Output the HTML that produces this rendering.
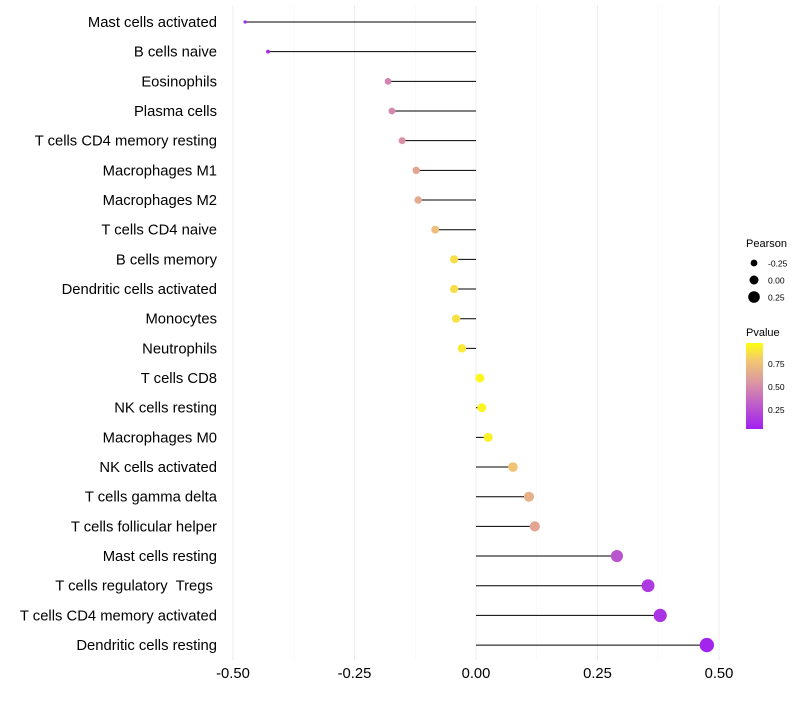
<!DOCTYPE html>
<html><head><meta charset="utf-8"><style>
body{margin:0;background:#fff;font-family:"Liberation Sans",sans-serif}
text{white-space:pre}
</style></head><body>
<svg id="chart" width="800" height="700" xmlns="http://www.w3.org/2000/svg" font-family="Liberation Sans, sans-serif">
<defs><linearGradient id="pg" x1="0" y1="1" x2="0" y2="0">
<stop offset="0" stop-color="#A020F0"/><stop offset="0.3" stop-color="#C060C8"/><stop offset="0.55" stop-color="#DC98A0"/><stop offset="0.8" stop-color="#F2C870"/><stop offset="1" stop-color="#FFFF10"/></linearGradient></defs>
<g id="grid"></g><g id="marks"></g><g id="ylabels"></g><g id="xlabels"></g>
<g>
<text x="746" y="247" font-size="11">Pearson</text>
<circle cx="754" cy="263" r="3.4"/><text x="768" y="266.5" font-size="8.5">-0.25</text>
<circle cx="754" cy="280" r="4.5"/><text x="768" y="283.5" font-size="8.5">0.00</text>
<circle cx="754" cy="297" r="5.8"/><text x="768" y="300.5" font-size="8.5">0.25</text>
<text x="746" y="336" font-size="11">Pvalue</text>
<rect x="746" y="343" width="17" height="86" fill="url(#pg)"/>
<text x="768" y="367" font-size="8.5">0.75</text>
<text x="768" y="390" font-size="8.5">0.50</text>
<text x="768" y="413" font-size="8.5">0.25</text>
</g>
</svg>
<script>
const cells=["Mast cells activated","B cells naive","Eosinophils","Plasma cells","T cells CD4 memory resting","Macrophages M1","Macrophages M2","T cells CD4 naive","B cells memory","Dendritic cells activated","Monocytes","Neutrophils","T cells CD8","NK cells resting","Macrophages M0","NK cells activated","T cells gamma delta","T cells follicular helper","Mast cells resting","T cells regulatory  Tregs ","T cells CD4 memory activated","Dendritic cells resting"];
const pearson=[-0.475,-0.428,-0.181,-0.173,-0.152,-0.123,-0.119,-0.084,-0.045,-0.045,-0.041,-0.029,0.008,0.012,0.025,0.076,0.109,0.121,0.29,0.354,0.379,0.475];
const pvalue=[0.03,0.05,0.45,0.48,0.52,0.62,0.64,0.75,0.88,0.88,0.89,0.92,0.97,0.96,0.95,0.78,0.68,0.62,0.25,0.12,0.09,0.02];
const xticks=[-0.5,-0.25,0,0.25,0.5];
const xtickLabels=["-0.50","-0.25","0.00","0.25","0.50"];
const NS="http://www.w3.org/2000/svg";
const xs=v=>476+v*486;
const ys=i=>22+i*29.67;
const rs=v=>4.4+5.8*v;
function col(p){const st=[[0,[160,32,240]],[0.3,[192,96,200]],[0.55,[220,152,160]],[0.8,[242,200,112]],[1,[255,255,16]]];
for(let i=1;i<st.length;i++){if(p<=st[i][0]){const a=st[i-1],b=st[i],t=(p-a[0])/(b[0]-a[0]);return "rgb("+a[1].map((c,k)=>Math.round(c+(b[1][k]-c)*t)).join(",")+")";}}return "rgb(255,255,16)";}
function mk(t,a,p){const e=document.createElementNS(NS,t);for(const k in a)e.setAttribute(k,a[k]);p.appendChild(e);return e;}
const grid=document.getElementById("grid"),marks=document.getElementById("marks"),yl=document.getElementById("ylabels"),xl=document.getElementById("xlabels");
for(let v=-0.5;v<=0.5001;v+=0.125){const major=Math.abs(v*4-Math.round(v*4))<1e-6;const g=mk("line",{x1:xs(v),x2:xs(v),y1:5,y2:660,stroke:major?"#ececec":"#f5f5f5","stroke-width":major?1:0.6},grid);

}
xticks.forEach((v,i)=>{const t=mk("text",{x:xs(v),y:678,"font-size":14.8,"text-anchor":"middle",fill:"#000"},xl);t.textContent=xtickLabels[i];

});
cells.forEach((c,i)=>{const y=ys(i);
const t=mk("text",{x:217,y:y+5,"font-size":14.8,"text-anchor":"end",fill:"#000"},yl);t.textContent=c;


const l=mk("line",{x1:xs(0),x2:xs(pearson[i]),y1:y,y2:y,stroke:"#000","stroke-width":1},marks);


const d=mk("circle",{cx:xs(pearson[i]),cy:y,r:rs(pearson[i]),fill:col(pvalue[i])},marks);

});
</script>
</body></html>
